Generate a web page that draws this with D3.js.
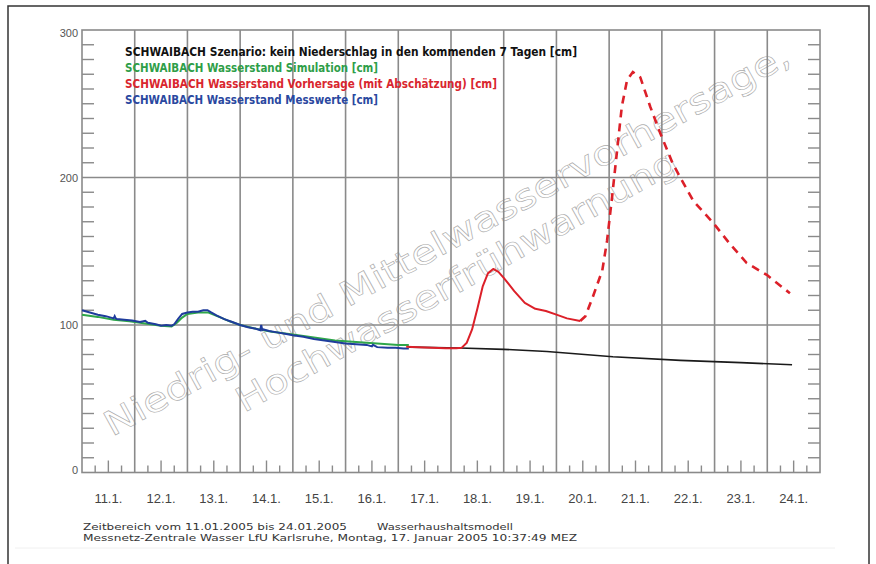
<!DOCTYPE html>
<html><head><meta charset="utf-8">
<script src="https://cdn.jsdelivr.net/npm/d3@7"></script>
<style>html,body{margin:0;padding:0;background:#fff;}svg{display:block;}</style>
</head><body>
<svg id="c" width="876" height="564"></svg>
<script>
// ---- data (t = days since 11.01.2005 00:00) ----
const dayLabels = ["11.1.","12.1.","13.1.","14.1.","15.1.","16.1.","17.1.","18.1.","19.1.","20.1.","21.1.","22.1.","23.1.","24.1."];
const yTickValues = [0, 100, 200, 300];

const measuredT = [0,0.1,0.2,0.3,0.45,0.6,0.62,0.64,0.66,0.8,0.95,1.1,1.2,1.25,1.4,1.5,1.6,1.7,1.75,1.82,1.9,2.0,2.1,2.2,2.3,2.38,2.45,2.55,2.7,2.85,3.0,3.15,3.3,3.38,3.40,3.42,3.44,3.55,3.7,3.85,4.0,4.2,4.4,4.6,4.8,5.0,5.2,5.4,5.5,5.52,5.6,5.8,5.95,6.1,6.2];
const measuredV = [110,109,108,107,106,104.5,106,104.5,104,103.5,103,102,102.8,101.5,100.5,99.5,100,99.5,100.5,104,107.5,108.5,109,109,110,110,108.5,106.5,104,102,100,98.5,97.5,96.5,100,96.5,97,96,95,94,93,92,90.5,89.5,88.5,87.5,87,86.5,85.5,86.5,85,84.5,84.5,84,84];

const simT = [0,0.3,0.6,0.9,1.2,1.5,1.7,1.8,1.9,2.0,2.2,2.4,2.6,2.8,3.0,3.3,3.6,4.0,4.4,4.8,5.2,5.6,6.0,6.2];
const simV = [107,105.5,103.5,102.5,101,99.5,99,101.5,105,107.5,108.5,108.5,105.5,102.5,100,97.5,95.5,93.5,91.5,89.5,88.5,87.5,86.5,86.5];

const forecastT = [6.15,6.5,6.9,7.1,7.2,7.3,7.4,7.5,7.6,7.7,7.8,7.9,8.0,8.2,8.4,8.6,8.8,9.0,9.2,9.45];
const forecastV = [85.3,84.8,84.3,84.2,84.5,88,97,111,126,135,138,136,132,123,115,111,109.5,107,104.5,102.7];

const estimateT = [9.45,9.55,9.69,9.8,9.87,9.96,10.05,10.15,10.24,10.34,10.45,10.59,10.78,10.97,11.2,11.35,11.6,11.98,12.29,12.61,12.99,13.43];
const estimateV = [102.7,106,119,130,137,157,185,218,248,266,271.5,268,248,230,210,200,184,169,155,142,134,121.5];

const scenarioT = [6.2,7.17,8.0,8.82,10.07,11.35,12.5,13.47];
const scenarioV = [85,84.4,83.5,82,78.5,76,74.5,73];

const legendTexts = [
  "SCHWAIBACH Szenario: kein Niederschlag in den kommenden 7 Tagen [cm]",
  "SCHWAIBACH Wasserstand Simulation [cm]",
  "SCHWAIBACH Wasserstand Vorhersage (mit Abschätzung) [cm]",
  "SCHWAIBACH Wasserstand Messwerte [cm]"
];
const footerLines = [
  "Zeitbereich vom 11.01.2005 bis 24.01.2005",
  "Wasserhaushaltsmodell",
  "Messnetz-Zentrale Wasser LfU Karlsruhe, Montag, 17. Januar 2005 10:37:49 MEZ"
];
const watermark = ["Niedrig- und Mittelwasservorhersage,", "Hochwasserfrühwarnung"];

// ---- drawing ----
const svg = d3.select("#c");
const L = 82, R = 820, T = 30, B = 472.5;
const x = d3.scaleLinear().domain([0, 14]).range([L, R]);
const y = d3.scaleLinear().domain([0, 300]).range([B, T]);
const gridCol = "#8a8a8a";

// outer frame
svg.append("rect").attr("x", 8).attr("y", 6).attr("width", 861).attr("height", 600)
  .attr("fill", "none").attr("stroke", "#333").attr("stroke-width", 1.5);
svg.append("line").attr("x1", 15).attr("x2", 835).attr("y1", 548).attr("y2", 548)
  .attr("stroke", "#f0f0f0").attr("stroke-width", 1);

// watermark
const wm = svg.append("g").attr("font-family", "DejaVu Sans, sans-serif")
  .attr("font-size", 34).attr("fill", "none").attr("stroke", "#aaaaaa").attr("stroke-width", 0.6);
wm.append("text").attr("transform", "translate(112,437) rotate(-28.8)")
  .attr("textLength", 777).attr("lengthAdjust", "spacingAndGlyphs").text(watermark[0]);
wm.append("text").attr("transform", "translate(244,413) rotate(-29.2)")
  .attr("textLength", 500).attr("lengthAdjust", "spacingAndGlyphs").text(watermark[1]);

// grid
const grid = svg.append("g").attr("stroke", gridCol).attr("stroke-width", 1.6);
grid.selectAll("line.v").data(d3.range(1, 14)).join("line")
  .attr("x1", d => x(d)).attr("x2", d => x(d)).attr("y1", T).attr("y2", B);
grid.selectAll("line.h").data([100, 200]).join("line")
  .attr("x1", L).attr("x2", R).attr("y1", d => y(d)).attr("y2", d => y(d));

// minor y ticks (left & right, inward)
const minorY = d3.range(10, 300, 10).filter(v => v % 100 !== 0);
const tk = svg.append("g").attr("stroke", gridCol).attr("stroke-width", 1.4);
tk.selectAll("line.l").data(minorY).join("line")
  .attr("x1", L).attr("x2", L + 12).attr("y1", d => y(d)).attr("y2", d => y(d));
tk.selectAll("line.r").data(minorY).join("line")
  .attr("x1", R - 12).attr("x2", R).attr("y1", d => y(d)).attr("y2", d => y(d));
// minor x ticks (6h, 12h, 18h)
const minorX = [];
for (let d = 0; d < 14; d++) for (const h of [0.25, 0.5, 0.75]) minorX.push(d + h);
tk.selectAll("line.x").data(minorX).join("line")
  .attr("x1", d => x(d)).attr("x2", d => x(d)).attr("y1", B)
  .attr("y2", d => B - (Math.abs((d % 1) - 0.5) < 0.01 ? 12 : 7));

// frame of plot
svg.append("rect").attr("x", L).attr("y", T).attr("width", R - L).attr("height", B - T)
  .attr("fill", "none").attr("stroke", gridCol).attr("stroke-width", 1.6);

// y labels
svg.append("g").attr("font-family", "Liberation Sans, sans-serif").attr("font-size", 11)
  .attr("fill", "#555").attr("text-anchor", "end")
  .selectAll("text").data(yTickValues).join("text")
  .attr("x", 78).attr("y", d => y(d) + (d === 300 ? 7 : (d === 0 ? 1 : 4))).text(d => d);

// x labels
svg.append("g").attr("font-family", "Liberation Sans, sans-serif").attr("font-size", 13)
  .attr("fill", "#444").attr("text-anchor", "middle")
  .selectAll("text").data(dayLabels).join("text")
  .attr("x", (d, i) => x(i + 0.5)).attr("y", 503).text(d => d);

// series
const line = (ts, vs) => d3.line().x((d, i) => x(ts[i])).y((d, i) => y(vs[i]))(vs);
svg.append("path").attr("d", line(scenarioT, scenarioV)).attr("fill", "none")
  .attr("stroke", "#1a1a1a").attr("stroke-width", 1.6);
svg.append("path").attr("d", line(simT, simV)).attr("fill", "none")
  .attr("stroke", "#2fa64a").attr("stroke-width", 2);
svg.append("path").attr("d", line(measuredT, measuredV)).attr("fill", "none")
  .attr("stroke", "#1f3c9c").attr("stroke-width", 2);
svg.append("path").attr("d", line(forecastT, forecastV)).attr("fill", "none")
  .attr("stroke", "#dc2029").attr("stroke-width", 2).attr("stroke-linejoin", "round");
svg.append("path").attr("d", line(estimateT, estimateV)).attr("fill", "none")
  .attr("stroke", "#dc2029").attr("stroke-width", 2.6).attr("stroke-dasharray", "8,6");

// legend
const legCols = ["#111", "#2e9e48", "#d9262e", "#2a48a0"];
const legEnds = [577, 378, 497, 378];
svg.append("g").attr("font-family", "DejaVu Sans, sans-serif").attr("font-size", 11.5)
  .attr("font-weight", "bold")
  .selectAll("text").data(legendTexts).join("text")
  .attr("x", 125).attr("y", (d, i) => 56 + i * 16)
  .attr("fill", (d, i) => legCols[i])
  .attr("textLength", (d, i) => legEnds[i] - 125).attr("lengthAdjust", "spacingAndGlyphs")
  .text(d => d);

// footer
const ft = svg.append("g").attr("font-family", "DejaVu Sans, sans-serif").attr("font-size", 9).attr("fill", "#333");
ft.append("text").attr("x", 83).attr("y", 530).attr("textLength", 264).attr("lengthAdjust", "spacingAndGlyphs").text(footerLines[0]);
ft.append("text").attr("x", 377).attr("y", 530).attr("textLength", 136).attr("lengthAdjust", "spacingAndGlyphs").text(footerLines[1]);
ft.append("text").attr("x", 83).attr("y", 540.5).attr("textLength", 494).attr("lengthAdjust", "spacingAndGlyphs").text(footerLines[2]);
</script>
</body></html>
